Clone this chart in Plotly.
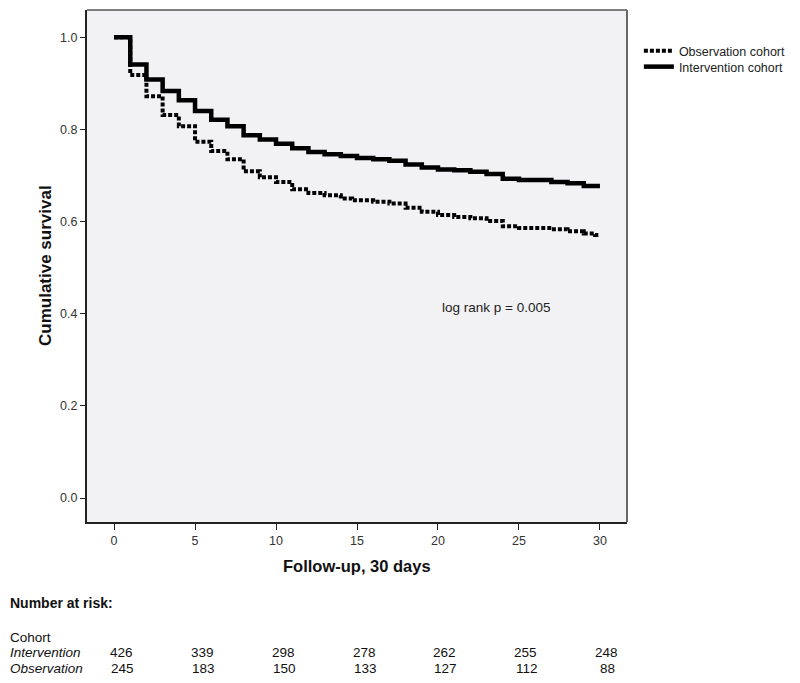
import plotly.graph_objects as go

# ---- data ----
int_days = [0, 1, 2, 3, 4, 5, 6, 7, 8, 9, 10, 11, 12, 13, 14, 15, 16, 17, 18, 19,
            20, 21, 22, 23, 24, 25, 27, 28, 29, 30]
int_surv = [1.0, 0.941, 0.908, 0.883, 0.863, 0.840, 0.821, 0.807, 0.787, 0.778,
            0.769, 0.759, 0.751, 0.746, 0.742, 0.738, 0.735, 0.732, 0.724, 0.717,
            0.713, 0.711, 0.708, 0.703, 0.693, 0.690, 0.686, 0.683, 0.677, 0.677]

obs_days = [0, 1, 2, 3, 4, 5, 6, 7, 8, 9, 10, 11, 12, 13, 14, 14.7, 16, 17, 18, 19,
            20, 21, 22, 23, 24, 25, 27, 28, 29, 29.7, 30]
obs_surv = [1.0, 0.918, 0.872, 0.831, 0.807, 0.773, 0.753, 0.735, 0.709, 0.696,
            0.686, 0.670, 0.662, 0.657, 0.650, 0.646, 0.643, 0.639, 0.630, 0.621,
            0.614, 0.610, 0.607, 0.601, 0.590, 0.586, 0.583, 0.579, 0.574, 0.571, 0.571]

risk_days = [0, 5, 10, 15, 20, 25, 30]
risk_intervention = [426, 339, 298, 278, 262, 255, 248]
risk_observation = [245, 183, 150, 133, 127, 112, 88]

x_ticks = [0, 5, 10, 15, 20, 25, 30]
y_ticks = [0.0, 0.2, 0.4, 0.6, 0.8, 1.0]

FONT = "Liberation Sans, Arial, sans-serif"

fig = go.Figure()
fig.add_trace(go.Scatter(
    x=obs_days, y=obs_surv, mode="lines", line_shape="hv",
    name="Observation cohort", legend="legend",
    line=dict(color="black", width=4, dash="4px,2px")))
fig.add_trace(go.Scatter(
    x=int_days, y=int_surv, mode="lines", line_shape="hv",
    name="Intervention cohort", legend="legend2",
    line=dict(color="black", width=4.5)))

leg_common = dict(x=1.022, xanchor="left", yanchor="middle",
                  bgcolor="rgba(0,0,0,0)", itemwidth=30,
                  font=dict(size=12.5, color="#222"))

fig.update_layout(
    width=800, height=683,
    margin=dict(l=87, r=173, t=10, b=161, autoexpand=False),
    paper_bgcolor="white",
    plot_bgcolor="#f2f2f4",
    font=dict(family=FONT, size=12, color="#222"),
    showlegend=True,
    legend=dict(y=(522 - 51) / 512.0, **leg_common),
    legend2=dict(y=(522 - 67) / 512.0, **leg_common),
    xaxis=dict(range=[-1.67, 31.67], tickvals=x_ticks, ticks="outside",
               ticklen=6, tickcolor="#222", showgrid=False, zeroline=False,
               showline=True, linecolor="#222", linewidth=2,
               tickfont=dict(size=12.5, color="#333")),
    yaxis=dict(range=[-0.052, 1.059], tickvals=y_ticks, tickformat=".1f",
               ticks="outside", ticklen=5, tickcolor="#222", showgrid=False,
               zeroline=False, showline=True, linecolor="#222", linewidth=2,
               tickfont=dict(size=12.5, color="#333")),
)

# top/right frame lines (gray)
fig.add_shape(type="line", xref="paper", yref="paper", x0=0, x1=1, y0=1, y1=1,
              line=dict(color="#555", width=1.5))
fig.add_shape(type="line", xref="paper", yref="paper", x0=1, x1=1, y0=0, y1=1,
              line=dict(color="#666", width=2))


def px_x(pix):
    return (pix - 87) / 540.0


def px_y(pix):
    return (522 - pix) / 512.0


ann = []
ann.append(dict(x=23.6, y=0.414, xref="x", yref="y", text="log rank p = 0.005",
                xanchor="center", yanchor="middle",
                showarrow=False, font=dict(size=13.5, color="#222")))
ann.append(dict(x=px_x(45), y=0.5, xref="paper", yref="paper",
                xanchor="center", yanchor="middle",
                text="<b>Cumulative survival</b>", textangle=-90, showarrow=False,
                font=dict(size=17, color="#111")))
ann.append(dict(x=0.5, y=px_y(566), xref="paper", yref="paper",
                xanchor="center", yanchor="middle",
                text="<b>Follow-up, 30 days</b>", showarrow=False,
                font=dict(size=16.5, color="#111")))

lbl_font = dict(size=13.5, color="#111")
ann.append(dict(x=px_x(8), y=px_y(603), xref="paper", yref="paper",
                text="<b>Number at risk:</b>", showarrow=False, xanchor="left",
                yanchor="middle", font=dict(size=14, color="#111")))
ann.append(dict(x=px_x(8), y=px_y(637), xref="paper", yref="paper", text="Cohort",
                showarrow=False, xanchor="left", yanchor="middle", font=lbl_font))
ann.append(dict(x=px_x(8), y=px_y(652), xref="paper", yref="paper",
                text="<i>Intervention</i>", showarrow=False, xanchor="left",
                yanchor="middle", font=lbl_font))
ann.append(dict(x=px_x(8), y=px_y(668), xref="paper", yref="paper",
                text="<i>Observation</i>", showarrow=False, xanchor="left",
                yanchor="middle", font=lbl_font))
for d, a, b in zip(risk_days, risk_intervention, risk_observation):
    ann.append(dict(x=d, y=px_y(652), xref="x", yref="paper", text=str(a), xshift=7,
                    xanchor="center", yanchor="middle", showarrow=False, font=lbl_font))
    ann.append(dict(x=d, y=px_y(668), xref="x", yref="paper", text=str(b), xshift=8,
                    xanchor="center", yanchor="middle", showarrow=False, font=lbl_font))

fig.update_layout(annotations=ann)
fig.write_html(
    "out.html",
    config={"displayModeBar": False},
    post_script="document.body.style.margin='0';document.body.style.padding='0';",
)
